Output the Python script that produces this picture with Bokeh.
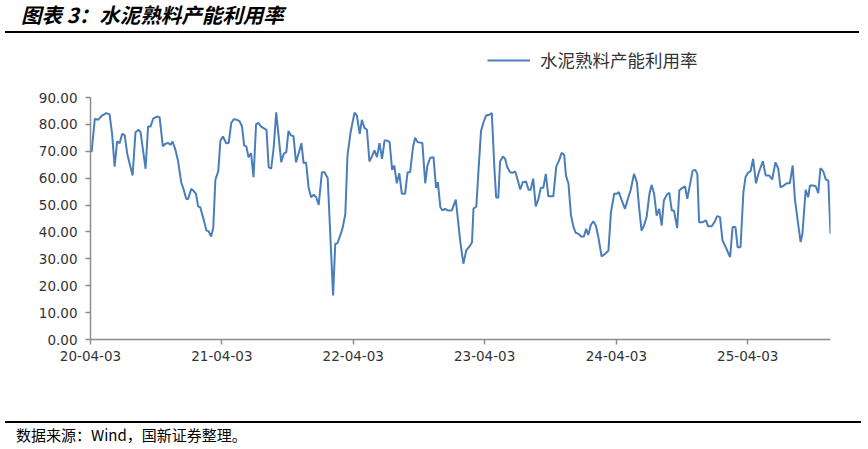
import pandas as pd
from bokeh.plotting import figure
from bokeh.layouts import column
from bokeh.models import (ColumnDataSource, Range1d, FixedTicker, NumeralTickFormatter,
                          DatetimeTickFormatter, Legend, LegendItem, Div)
from bokeh.embed import file_html
from bokeh.resources import INLINE

# ---------------- data ----------------
start_date = "2020-04-03"
series_name = "水泥熟料产能利用率"
title_text = "图表 3：水泥熟料产能利用率"
source_text = "数据来源：Wind，国新证券整理。"
tick_dates = ["2020-04-03", "2021-04-03", "2022-04-03", "2023-04-03", "2024-04-03", "2025-04-03"]
y_ticks = [0, 10, 20, 30, 40, 50, 60, 70, 80, 90]

# days after 2020-04-03 of each observation
days = [
    3, 12, 21, 32, 44, 53, 60, 67, 74, 81,
    88, 95, 102, 109, 117, 125, 134, 139, 153, 160,
    167, 174, 185, 192, 201, 208, 216, 222, 228, 236,
    243, 252, 259, 266, 271, 280, 287, 293, 299, 305,
    315, 322, 328, 335, 341, 347, 355, 361, 368, 377,
    384, 391, 398, 407, 414, 421, 427, 433, 439, 446,
    453, 460, 466, 474, 481, 489, 495, 502, 509, 516,
    523, 530, 537, 544, 550, 557, 564, 571, 578, 586,
    592, 599, 606, 613, 620, 627, 634, 643, 650, 659,
    674, 680, 686, 694, 701, 708, 714, 722, 729, 734,
    740, 748, 754, 761, 768, 775, 782, 789, 796, 803,
    810, 817, 824, 831, 838, 844, 851, 858, 865, 874,
    881, 888, 896, 902, 909, 922, 930, 936, 944, 953,
    960, 965, 972, 978, 985, 993, 1004, 1015, 1027, 1036,
    1044, 1053, 1060, 1064, 1072, 1078, 1085, 1092, 1099, 1108,
    1115, 1122, 1127, 1133, 1138, 1146, 1152, 1158, 1166, 1172,
    1180, 1186, 1194, 1201, 1210, 1217, 1223, 1230, 1237, 1244,
    1251, 1258, 1265, 1272, 1286, 1294, 1302, 1309, 1316, 1321,
    1328, 1335, 1342, 1348, 1356, 1363, 1371, 1377, 1383, 1390,
    1397, 1404, 1411, 1420, 1430, 1439, 1446, 1455, 1462, 1468,
    1476, 1485, 1493, 1501, 1510, 1518, 1525, 1531, 1538, 1545,
    1553, 1559, 1566, 1573, 1580, 1587, 1593, 1601, 1608, 1615,
    1621, 1630, 1636, 1644, 1652, 1658, 1666, 1673, 1680, 1686,
    1691, 1700, 1710, 1716, 1726, 1735, 1741, 1749, 1756, 1765,
    1777, 1784, 1792, 1798, 1806, 1814, 1820, 1827, 1834, 1841,
    1849, 1857, 1868, 1876, 1886, 1894, 1903, 1911, 1917, 1927,
    1934, 1943, 1951, 1957, 1966, 1973, 1978, 1987, 1994, 1999,
    2008, 2015, 2022, 2028, 2036, 2043, 2050, 2056,
]

utilization = [
    69.7, 82.1, 81.7, 83.3, 84.2, 83.7, 76.5, 64.3, 73.7, 73.0,
    76.5, 76.0, 69.1, 65.3, 61.0, 77.1, 78.0, 77.1, 63.5, 79.2,
    79.2, 82.1, 82.9, 82.7, 71.8, 72.8, 73.1, 72.4, 73.6, 70.5,
    66.6, 58.5, 55.7, 52.3, 52.2, 56.0, 55.2, 54.2, 49.5, 49.2,
    44.3, 40.5, 40.3, 38.3, 41.5, 59.4, 62.6, 74.0, 75.5, 73.0,
    73.1, 80.5, 81.9, 81.7, 81.2, 79.2, 72.1, 71.8, 67.8, 69.3,
    60.4, 80.0, 80.6, 79.2, 78.6, 78.0, 64.1, 63.5, 71.5, 84.5,
    75.2, 65.9, 69.1, 69.7, 77.5, 75.9, 75.6, 65.9, 69.1, 73.0,
    65.6, 65.8, 56.4, 52.9, 53.8, 52.9, 50.1, 62.2, 62.2, 60.1,
    16.4, 35.6, 35.8, 38.7, 41.8, 46.7, 68.4, 76.5, 81.4, 84.4,
    83.3, 76.5, 81.7, 78.7, 78.0, 66.2, 68.1, 70.3, 67.8, 73.0,
    67.2, 74.0, 74.0, 73.4, 63.1, 64.7, 58.1, 61.8, 54.2, 54.2,
    62.2, 62.2, 71.5, 75.0, 73.4, 73.1, 58.1, 64.7, 67.6, 67.8,
    56.4, 58.5, 49.2, 48.0, 48.6, 48.0, 48.0, 52.0, 36.8, 28.2,
    33.1, 34.6, 36.2, 48.6, 49.5, 62.8, 77.5, 80.8, 83.3, 83.6,
    84.2, 64.1, 52.9, 52.7, 66.2, 68.1, 67.2, 64.1, 62.2, 62.0,
    62.5, 59.8, 55.8, 58.5, 58.8, 55.7, 55.7, 59.8, 49.5, 52.0,
    56.4, 56.4, 61.6, 53.3, 53.3, 64.3, 66.6, 69.4, 68.7, 61.0,
    57.9, 46.1, 41.8, 39.7, 39.3, 38.3, 38.3, 41.2, 38.9, 42.6,
    44.0, 42.4, 38.1, 30.9, 31.9, 33.1, 47.3, 54.2, 54.2, 54.8,
    51.7, 48.6, 52.3, 55.7, 61.6, 58.5, 48.0, 40.5, 42.4, 45.5,
    54.2, 57.5, 54.2, 46.1, 48.6, 42.4, 51.7, 53.8, 54.6, 48.0,
    48.0, 41.4, 55.4, 56.4, 56.9, 52.3, 57.9, 62.8, 63.1, 61.6,
    43.6, 43.6, 44.3, 42.1, 42.1, 44.0, 45.9, 45.5, 36.8, 34.3,
    30.6, 41.8, 41.8, 34.3, 34.3, 54.8, 60.4, 62.0, 62.6, 67.2,
    58.1, 62.2, 66.3, 61.0, 61.0, 59.5, 65.9, 63.5, 56.6, 57.3,
    58.1, 58.1, 64.7, 52.3, 43.0, 36.2, 39.3, 55.7, 52.9, 57.3,
    57.3, 57.0, 54.4, 63.7, 62.5, 59.5, 59.1, 39.3,
]

# ---------------- layout constants (pixels) ----------------
W = 868
TITLE_H = 34
FIG_H = 376
FOOT_H = 39
FRAME_H = 305            # frame from figure top down to the x axis
AXIS_PX = 242            # pixel height of 0..90 on the y axis
y_top = 90 * FRAME_H / AXIS_PX   # frame extends above 90 so the legend sits inside

# ---------------- build ----------------
t0 = pd.Timestamp(start_date)
dates = [t0 + pd.Timedelta(days=d) for d in days]
source = ColumnDataSource(dict(date=dates, util=utilization))

p = figure(width=W, height=FIG_H, x_axis_type="datetime", title=None,
           x_range=Range1d(t0.to_pydatetime(), dates[-1].to_pydatetime()),
           y_range=Range1d(0, y_top),
           output_backend="svg", toolbar_location=None,
           min_border_left=90, min_border_right=38, min_border_top=0,
           min_border_bottom=FIG_H - FRAME_H, margin=0,
           background_fill_color="white", border_fill_color="white")
p.outline_line_color = None
p.xgrid.visible = False
p.ygrid.visible = False

r = p.line("date", "util", source=source, line_color="#4a7ebb", line_width=2)

axis_color = "#8c8c8c"
for ax in (p.xaxis[0], p.yaxis[0]):
    ax.axis_line_color = axis_color
    ax.axis_line_width = 1.5
    ax.major_tick_line_color = axis_color
    ax.major_tick_line_width = 1.5
    ax.major_tick_out = 5
    ax.major_tick_in = 0
    ax.minor_tick_line_color = None
    ax.major_label_text_font = "DejaVu Sans"
    ax.major_label_text_font_size = "13.5px"
    ax.major_label_text_color = "#333333"

p.yaxis.ticker = FixedTicker(ticks=y_ticks)
p.yaxis.formatter = NumeralTickFormatter(format="0.00")
p.yaxis.bounds = (0, 90)
p.yaxis.major_label_standoff = 8

tick_ms = [pd.Timestamp(t).value // 10**6 for t in tick_dates]
p.xaxis.ticker = FixedTicker(ticks=tick_ms)
fmt = "%y-%m-%d"
p.xaxis.formatter = DatetimeTickFormatter(years=fmt, months=fmt, days=fmt, hours=fmt,
                                          minutes=fmt, seconds=fmt, milliseconds=fmt,
                                          microseconds=fmt, hourmin=fmt, minsec=fmt)
p.xaxis.major_label_standoff = 6

legend = Legend(items=[LegendItem(label=series_name, renderers=[r])],
                location=(397, 267), padding=0, margin=0, spacing=0,
                glyph_width=43, glyph_height=20, label_height=20, label_standoff=10,
                label_text_font="Noto Sans CJK SC", label_text_font_size="17.5px",
                label_text_color="#333333", border_line_color=None,
                background_fill_alpha=0)
p.add_layout(legend)

title_div = Div(
    text=(f'<div style="position:relative;width:{W}px;height:{TITLE_H}px;">'
          '<div style="position:absolute;left:21px;top:4px;line-height:21px;'
          'font-family:\'Noto Sans CJK SC\';font-size:20.5px;font-weight:bold;'
          f'font-style:italic;color:black;white-space:nowrap;">{title_text}</div>'
          '<div style="position:absolute;left:5px;top:30.7px;width:854px;height:2.6px;'
          'background:black;"></div></div>'),
    width=W, height=TITLE_H, margin=0)

foot_div = Div(
    text=(f'<div style="position:relative;width:{W}px;height:{FOOT_H}px;">'
          '<div style="position:absolute;left:5px;top:11px;width:856px;height:2px;'
          'background:black;"></div>'
          '<div style="position:absolute;left:16px;top:17px;line-height:16px;'
          'font-family:\'Noto Sans CJK SC\';font-size:15px;color:black;'
          f'white-space:nowrap;">{source_text}</div></div>'),
    width=W, height=FOOT_H, margin=0)

layout = column(title_div, p, foot_div, spacing=0, margin=0)
open("out.html", "w").write(file_html(layout, INLINE))
